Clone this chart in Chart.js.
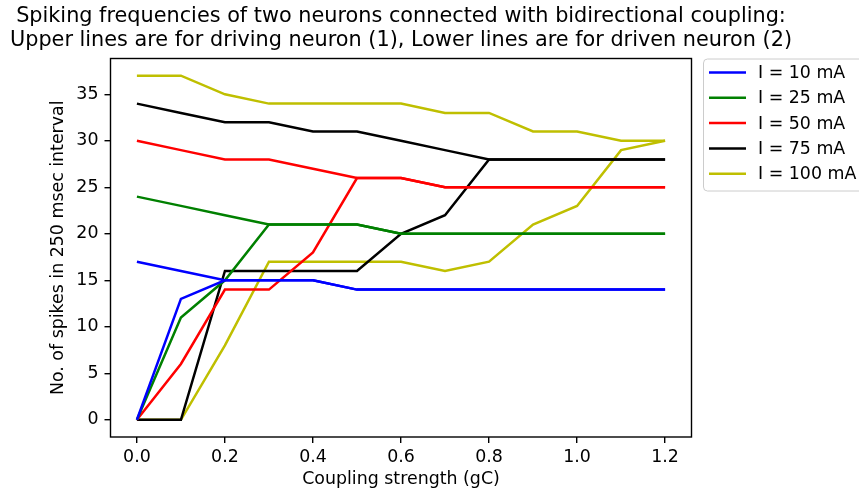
<!DOCTYPE html>
<html>
<head>
<meta charset="utf-8">
<script src="https://cdn.jsdelivr.net/npm/chart.js@4.4.0/dist/chart.umd.min.js"></script>
<style>
  html, body { margin: 0; padding: 0; background: #fff; }
  #wrap { width: 859px; height: 492px; position: relative; }
</style>
</head>
<body>
<div id="wrap"><canvas id="spikeChart"></canvas></div>
<script>
// coupling strengths (gC)
const coupling = [0.0, 0.1, 0.2, 0.3, 0.4, 0.5, 0.6, 0.7, 0.8, 0.9, 1.0, 1.1, 1.2];

const currents = ['I = 10 mA', 'I = 25 mA', 'I = 50 mA', 'I = 75 mA', 'I = 100 mA'];
const lineColors = ['#0000ff', '#008000', '#ff0000', '#000000', '#bfbf00'];

// driving neuron (1) - upper lines
const driving10  = [17, 16, 15, 15, 15, 14, 14, 14, 14, 14, 14, 14, 14];
const driving25  = [24, 23, 22, 21, 21, 21, 20, 20, 20, 20, 20, 20, 20];
const driving50  = [30, 29, 28, 28, 27, 26, 26, 25, 25, 25, 25, 25, 25];
const driving75  = [34, 33, 32, 32, 31, 31, 30, 29, 28, 28, 28, 28, 28];
const driving100 = [37, 37, 35, 34, 34, 34, 34, 33, 33, 31, 31, 30, 30];

// driven neuron (2) - lower lines
const driven10  = [0, 13, 15, 15, 15, 14, 14, 14, 14, 14, 14, 14, 14];
const driven25  = [0, 11, 15, 21, 21, 21, 20, 20, 20, 20, 20, 20, 20];
const driven50  = [0, 6, 14, 14, 18, 26, 26, 25, 25, 25, 25, 25, 25];
const driven75  = [0, 0, 16, 16, 16, 16, 20, 22, 28, 28, 28, 28, 28];
const driven100 = [0, 0, 8, 17, 17, 17, 17, 16, 17, 21, 23, 29, 30];

const xTicks = [0.0, 0.2, 0.4, 0.6, 0.8, 1.0, 1.2];
const yTicks = [0, 5, 10, 15, 20, 25, 30, 35];

const titleLines = [
  'Spiking frequencies of two neurons connected with bidirectional coupling:',
  'Upper lines are for driving neuron (1), Lower lines are for driven neuron (2)'
];

const drivingSets = [driving10, driving25, driving50, driving75, driving100];
const drivenSets = [driven10, driven25, driven50, driven75, driven100];

const FONT = "'DejaVu Sans', sans-serif";
const TXT = 17.4;

function toPoints(vals) {
  return vals.map((v, i) => ({ x: coupling[i], y: v }));
}

const datasets = [];
currents.forEach((label, k) => {
  datasets.push({ label: label, data: toPoints(drivingSets[k]), borderColor: lineColors[k], legendEntry: true });
  datasets.push({ label: label + ' (2)', data: toPoints(drivenSets[k]), borderColor: lineColors[k], legendEntry: false });
});
datasets.forEach(d => {
  d.borderWidth = 2.5;
  d.pointRadius = 0;
  d.fill = false;
  d.tension = 0;
});

// box around the plotting area (all four sides)
const frame = {
  id: 'frame',
  afterDatasetsDraw(chart) {
    const a = chart.chartArea, ctx = chart.ctx;
    ctx.save();
    ctx.strokeStyle = '#000';
    ctx.lineWidth = 1.4;
    ctx.strokeRect(a.left, a.top, a.right - a.left, a.bottom - a.top);
    ctx.restore();
  }
};

// two-line title centred over the axes
const axesTitle = {
  id: 'axesTitle',
  afterDraw(chart) {
    const a = chart.chartArea, ctx = chart.ctx;
    const cx = (a.left + a.right) / 2;
    ctx.save();
    ctx.font = '20.8px ' + FONT;
    ctx.fillStyle = '#000';
    ctx.textAlign = 'center';
    ctx.textBaseline = 'middle';
    titleLines.forEach((t, i) => ctx.fillText(t, cx, 17 + i * 24));
    ctx.restore();
  }
};

// legend drawn outside the axes, top right
const sideLegend = {
  id: 'sideLegend',
  afterDraw(chart) {
    const ctx = chart.ctx, a = chart.chartArea;
    const x0 = 703.5, y0 = a.top + 0.5, w = 160, h = 132;
    ctx.save();
    ctx.fillStyle = 'rgba(255,255,255,0.8)';
    ctx.strokeStyle = '#cccccc';
    ctx.lineWidth = 1;
    ctx.beginPath();
    ctx.roundRect(x0, y0, w, h, 4);
    ctx.fill();
    ctx.stroke();
    ctx.font = TXT + 'px ' + FONT;
    ctx.textBaseline = 'middle';
    ctx.fillStyle = '#000';
    const items = chart.data.datasets.filter(d => d.legendEntry);
    items.forEach((d, i) => {
      const y = 72.5 + i * 25.3;
      ctx.strokeStyle = d.borderColor;
      ctx.lineWidth = 2.5;
      ctx.beginPath();
      ctx.moveTo(709, y);
      ctx.lineTo(746, y);
      ctx.stroke();
      ctx.fillText(d.label, 758, y + 1);
    });
    ctx.restore();
  }
};

const ctx = document.getElementById('spikeChart').getContext('2d');
new Chart(ctx, {
  type: 'line',
  data: { datasets: datasets },
  options: {
    responsive: true,
    maintainAspectRatio: false,
    animation: false,
    layout: { padding: { left: 0, right: 167.5, top: 58.5, bottom: 0 } },
    plugins: {
      legend: { display: false },
      tooltip: { enabled: false },
      title: { display: false }
    },
    scales: {
      x: {
        type: 'linear',
        min: -0.06,
        max: 1.26,
        afterBuildTicks(scale) { scale.ticks = xTicks.map(v => ({ value: v })); },
        afterFit(scale) { scale.height = 55; },
        grid: { display: true, drawOnChartArea: false, drawTicks: true, tickLength: 6, color: '#000', lineWidth: 1.4 },
        border: { display: false },
        ticks: {
          color: '#000',
          font: { family: FONT, size: TXT },
          padding: 4,
          maxRotation: 0,
          callback: v => v.toFixed(1)
        },
        title: {
          display: true,
          text: 'Coupling strength (gC)',
          color: '#000',
          font: { family: FONT, size: TXT },
          padding: { top: 0, bottom: 2 }
        }
      },
      y: {
        type: 'linear',
        min: -1.85,
        max: 38.85,
        afterBuildTicks(scale) { scale.ticks = yTicks.map(v => ({ value: v })); },
        afterFit(scale) { scale.width = 110.5; },
        grid: { display: true, drawOnChartArea: false, drawTicks: true, tickLength: 6, color: '#000', lineWidth: 1.4 },
        border: { display: false },
        ticks: {
          color: '#000',
          font: { family: FONT, size: TXT },
          padding: 6
        },
        title: {
          display: true,
          text: 'No. of spikes in 250 msec interval',
          color: '#000',
          font: { family: FONT, size: TXT },
          padding: { top: 48, bottom: 0 }
        }
      }
    }
  },
  plugins: [frame, axesTitle, sideLegend]
});
</script>
</body>
</html>
